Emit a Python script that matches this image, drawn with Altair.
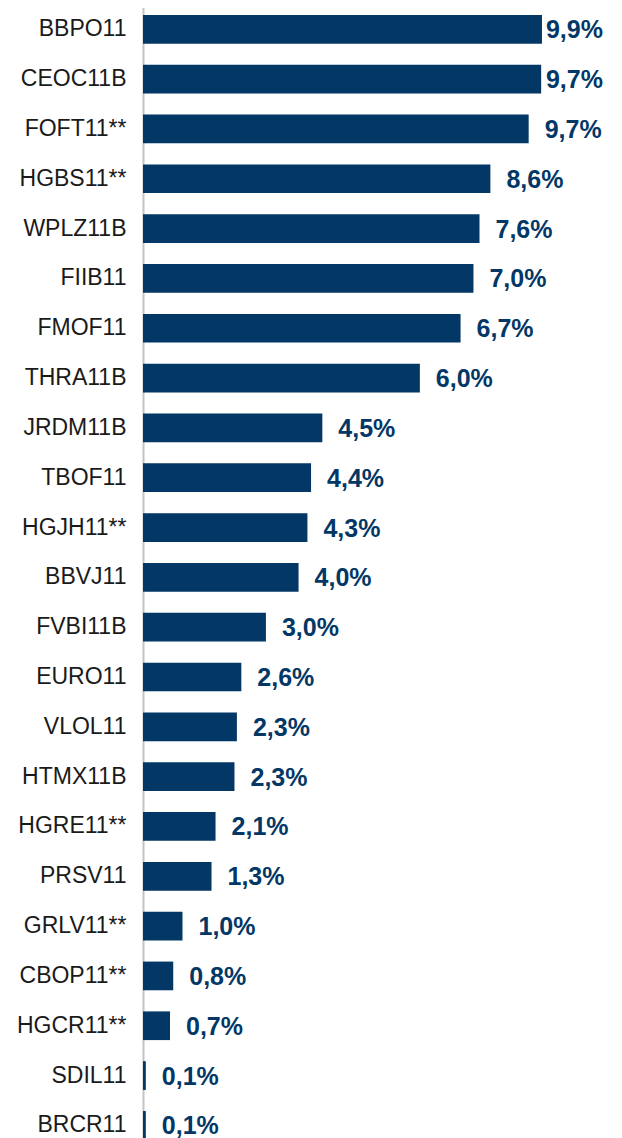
import altair as alt
import pandas as pd

tickers = ["BBPO11", "CEOC11B", "FOFT11**", "HGBS11**", "WPLZ11B", "FIIB11", "FMOF11",
           "THRA11B", "JRDM11B", "TBOF11", "HGJH11**", "BBVJ11", "FVBI11B", "EURO11",
           "VLOL11", "HTMX11B", "HGRE11**", "PRSV11", "GRLV11**", "CBOP11**", "HGCR11**",
           "SDIL11", "BRCR11"]
bar_values = [9.90, 9.88, 9.57, 8.62, 8.35, 8.20, 7.88, 6.87, 4.45, 4.17, 4.08, 3.86,
              3.05, 2.44, 2.33, 2.27, 1.80, 1.70, 0.98, 0.75, 0.67, 0.07, 0.07]
value_labels = ["9,9%", "9,7%", "9,7%", "8,6%", "7,6%", "7,0%", "6,7%", "6,0%", "4,5%",
                "4,4%", "4,3%", "4,0%", "3,0%", "2,6%", "2,3%", "2,3%", "2,1%", "1,3%",
                "1,0%", "0,8%", "0,7%", "0,1%", "0,1%"]

df = pd.DataFrame({"ticker": tickers, "value": bar_values, "label": value_labels})

NAVY = "#033766"

yenc = alt.Y(
    "ticker:N",
    sort=tickers,
    scale=alt.Scale(range=[-3.6, 1142.3], paddingInner=0.424, paddingOuter=0.212),
    axis=alt.Axis(
        title=None,
        ticks=False,
        tickSize=0,
        grid=False,
        domain=True,
        domainColor="#c4c4c4",
        domainWidth=2,
        labelPadding=17,
        labelFont="Liberation Sans",
        labelFontSize=23,
        labelColor="#1a1a1a",
    ),
)

xscale = alt.Scale(domain=[0, 10], nice=False, zero=True)

base = alt.Chart(df).properties(width=403, height=1142)

bars = base.mark_bar(color=NAVY).encode(
    y=yenc,
    x=alt.X("value:Q", scale=xscale, axis=None),
)

text = base.transform_calculate(
    label_x="min(datum.value, 9.6)"
).mark_text(
    align="left",
    baseline="middle",
    dx=16,
    dy=1,
    font="Liberation Sans",
    fontSize=25,
    fontWeight="bold",
    color=NAVY,
).encode(
    y=alt.Y("ticker:N", sort=tickers),
    x=alt.X("label_x:Q", scale=xscale, axis=None),
    text="label:N",
)

chart = alt.layer(bars, text).properties(
    padding={"left": 135, "top": 0, "right": 68, "bottom": 0},
    autosize=alt.AutoSizeParams(type="none"),
).configure_view(stroke=None)

chart.save("out.html", embed_options={"renderer": "svg", "actions": False})
